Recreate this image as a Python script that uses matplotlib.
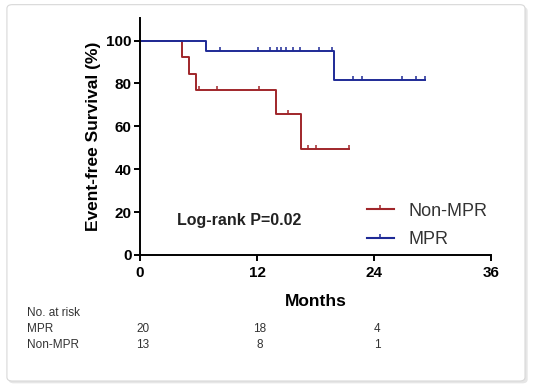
import numpy as np
import matplotlib
matplotlib.use("Agg")
import matplotlib.pyplot as plt
from matplotlib.lines import Line2D
from matplotlib.patches import FancyBboxPatch
from matplotlib.transforms import blended_transform_factory

plt.rcParams['font.family'] = ['Liberation Sans', 'DejaVu Sans']

# step curves (months, % event-free)
mpr_times = [0, 6.75, 19.9]
mpr_surv = [100, 95, 81.5]
mpr_end = 29.2
mpr_censor = [8.25, 12.1, 13.3, 14.0, 14.5, 15.0, 15.7, 16.4, 18.4, 19.7,
              21.8, 22.8, 26.9, 28.3, 29.2]

non_times = [0, 4.3, 5.0, 5.7, 13.9, 16.5]
non_surv = [100, 92.3, 84.6, 76.9, 65.9, 49.5]
non_end = 21.4
non_censor = [6.1, 7.9, 12.2, 15.2, 17.2, 18.0, 21.4]

risk_times = [0, 12, 24]
risk_mpr = [20, 18, 4]
risk_non = [13, 8, 1]

red = '#a0262a'
blue = '#1e2a96'
tick_up = [(0, 0), (0, 1)]


def surv_at(times, surv, t):
    i = np.searchsorted(times, t, side='right') - 1
    return np.asarray(surv)[i]


fig = plt.figure(figsize=(5.33, 3.88), dpi=100)

# card frame with soft shadow
fig.patches.append(FancyBboxPatch((0.016, 0.012), 0.974, 0.97, boxstyle="round,pad=0,rounding_size=0.01",
                                  transform=fig.transFigure, facecolor='#e6e6e6', edgecolor='none', zorder=-3))
fig.patches.append(FancyBboxPatch((0.013, 0.018), 0.972, 0.97, boxstyle="round,pad=0,rounding_size=0.01",
                                  transform=fig.transFigure, facecolor='white', edgecolor='#d8d8d8',
                                  linewidth=0.8, zorder=-2))

ax = fig.add_axes([0.2627, 0.3428, 0.6585, 0.6108])
ax.set_facecolor('none')

for times, surv, end, cens, col in [(non_times, non_surv, non_end, non_censor, red),
                                     (mpr_times, mpr_surv, mpr_end, mpr_censor, blue)]:
    ax.step(times + [end], surv + [surv[-1]], where='post', color=col, lw=1.4)
    cy = [surv_at(times, surv, t) for t in cens]
    ax.plot(cens, cy, linestyle='none', marker=tick_up, markersize=5.5,
            markeredgewidth=1.1, color=col)

ax.set_xlim(0, 36)
ax.set_ylim(0, 110.5)
ax.set_xticks([0, 12, 24, 36])
ax.set_yticks([0, 20, 40, 60, 80, 100])
for s in ['top', 'right']:
    ax.spines[s].set_visible(False)
for s in ['left', 'bottom']:
    ax.spines[s].set_linewidth(1.4)
ax.tick_params(width=1.4, length=4, labelsize=11, pad=2)
ax.tick_params(axis='x', pad=4)
for lab in ax.get_xticklabels() + ax.get_yticklabels():
    lab.set_fontweight('bold')
ax.set_xlabel('Months', fontsize=12.5, fontweight='bold', labelpad=10)
ax.set_ylabel('Event-free Survival (%)', fontsize=12.5, fontweight='bold', labelpad=4)

ax.text(3.8, 14, 'Log-rank P=0.02', fontsize=11.5, fontweight='bold', color='#222222')

handles = [Line2D([], [], color=red, lw=1.5, marker=tick_up, markersize=5.5, markeredgewidth=1.1),
           Line2D([], [], color=blue, lw=1.5, marker=tick_up, markersize=5.5, markeredgewidth=1.1)]
leg = ax.legend(handles, ['Non-MPR', 'MPR'], loc='lower left', bbox_to_anchor=(0.62, -0.01),
                frameon=False, fontsize=13, handlelength=1.5, handletextpad=0.8,
                labelspacing=0.65, borderaxespad=0.1)
for t in leg.get_texts():
    t.set_color('#333333')

# number at risk table
trans = blended_transform_factory(ax.transData, fig.transFigure)
fig.text(27 / 533, 1 - 313 / 388, 'No. at risk', fontsize=8.5, color='#333333', va='center')
fig.text(27 / 533, 1 - 329 / 388, 'MPR', fontsize=8.5, color='#333333', va='center')
fig.text(27 / 533, 1 - 345 / 388, 'Non-MPR', fontsize=8.5, color='#333333', va='center')
for x, a, b in zip(risk_times, risk_mpr, risk_non):
    fig.text(x + 0.3, 1 - 329 / 388, str(a), fontsize=8.5, color='#333333', va='center', ha='center',
             transform=trans)
    fig.text(x + 0.3, 1 - 345 / 388, str(b), fontsize=8.5, color='#333333', va='center', ha='center',
             transform=trans)

fig.savefig('out.png', dpi=100)
